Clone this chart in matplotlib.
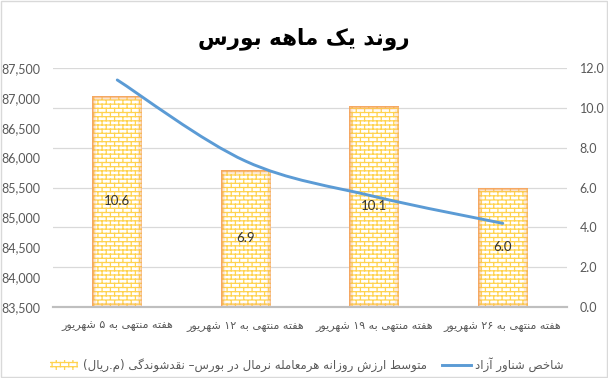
import re
import numpy as np
import matplotlib
matplotlib.use('Agg')
import matplotlib.pyplot as plt
import matplotlib.hatch as mhatch
from matplotlib.path import Path
from matplotlib.patches import PathPatch, Rectangle
from matplotlib.lines import Line2D
from matplotlib.ticker import FuncFormatter

# data
title = 'روند یک ماهه بورس'
weeks = ['هفته منتهی به ۵ شهریور', 'هفته منتهی به ۱۲ شهریور',
         'هفته منتهی به ۱۹ شهریور', 'هفته منتهی به ۲۶ شهریور']
liquidity = [10.6, 6.9, 10.1, 6.0]          # right axis, bars
float_index = [87300, 85940, 85350, 84900]  # left axis, line
bar_label = 'متوسط ارزش روزانه هرمعامله نرمال در بورس– نقدشوندگی (م.ریال)'
line_label = 'شاخص شناور آزاد'

# --- tiny persian shaper (matplotlib has no complex text layout) ---
FORMS = {
    'ا': '\uFE8D\uFE8E', 'آ': '\uFE81\uFE82', 'د': '\uFEA9\uFEAA',
    'ر': '\uFEAD\uFEAE', 'ز': '\uFEAF\uFEB0', 'و': '\uFEED\uFEEE',
    'ب': '\uFE8F\uFE90\uFE91\uFE92', 'ت': '\uFE95\uFE96\uFE97\uFE98',
    'خ': '\uFEA5\uFEA6\uFEA7\uFEA8', 'س': '\uFEB1\uFEB2\uFEB3\uFEB4',
    'ش': '\uFEB5\uFEB6\uFEB7\uFEB8', 'ص': '\uFEB9\uFEBA\uFEBB\uFEBC',
    'ط': '\uFEC1\uFEC2\uFEC3\uFEC4', 'ع': '\uFEC9\uFECA\uFECB\uFECC',
    'ف': '\uFED1\uFED2\uFED3\uFED4', 'ق': '\uFED5\uFED6\uFED7\uFED8',
    'ل': '\uFEDD\uFEDE\uFEDF\uFEE0', 'م': '\uFEE1\uFEE2\uFEE3\uFEE4',
    'ن': '\uFEE5\uFEE6\uFEE7\uFEE8', 'ه': '\uFEE9\uFEEA\uFEEB\uFEEC',
    'ی': '\uFBFC\uFBFD\uFBFE\uFBFF', 'ک': '\uFB8E\uFB8F\uFB90\uFB91',
    'گ': '\uFB92\uFB93\uFB94\uFB95',
}


def fa(s):
    out = []
    for i, ch in enumerate(s):
        f = FORMS.get(ch)
        if f is None:
            out.append(ch)
            continue
        prev = s[i - 1] if i > 0 else ''
        nxt = s[i + 1] if i + 1 < len(s) else ''
        jp = prev in FORMS and len(FORMS[prev]) == 4
        jn = len(f) == 4 and nxt in FORMS
        if jp and jn:
            out.append(f[3])
        elif jp:
            out.append(f[1])
        elif jn:
            out.append(f[2])
        else:
            out.append(f[0])
    vis = ''.join(out)[::-1].translate(str.maketrans('()', ')('))
    return re.sub('[\u06F0-\u06F9]+', lambda m: m.group(0)[::-1], vis)


# --- brick hatch, hooked onto the '-' hatch character ---
class BrickHatch(mhatch.HatchPatternBase):
    rows, cols = 24, 12

    def __init__(self, hatch, density):
        on = '-' in hatch
        self.num_vertices = ((self.rows + 1) * 2 + self.rows * self.cols * 2) if on else 0

    def set_vertices_and_codes(self, vertices, codes):
        v = []
        for i in range(self.rows + 1):
            y = i / self.rows
            v += [(0.0, y), (1.0, y)]
        for i in range(self.rows):
            off = 0.5 * (i % 2)
            for j in range(self.cols):
                x = (j + off + 0.25) / self.cols
                v += [(x, i / self.rows), (x, (i + 1) / self.rows)]
        vertices[:] = v
        codes[0::2] = Path.MOVETO
        codes[1::2] = Path.LINETO


mhatch._hatch_types = [BrickHatch if t is mhatch.HorizontalHatch else t
                       for t in mhatch._hatch_types]

plt.rcParams['font.family'] = ['Lato', 'DejaVu Sans']
plt.rcParams['hatch.linewidth'] = 0.9

fig = plt.figure(figsize=(6.08, 3.78), dpi=100)
ax = fig.add_axes([53 / 608, 1 - 307 / 378, 514 / 608, 239 / 378])
ax2 = ax.twinx()

x = np.arange(len(weeks))
bars = ax.bar(x, liquidity, width=0.39, color='white', edgecolor='#FFD34F',
              hatch='-', linewidth=0, zorder=2)
# soft orange inner glow along the bar edges
for lw, al in ((6, 0.22), (2.5, 0.45), (1.0, 0.9)):
    glow = ax.bar(x, liquidity, width=0.39, fill=False, edgecolor='#F5A55F',
                  linewidth=lw, alpha=al, zorder=3)
    for g, b in zip(glow, bars):
        g.set_clip_path(b)
for xi, v in zip(x, liquidity):
    ax.text(xi, v / 2, f'{v:.1f}', ha='center', va='center', fontsize=9.5,
            color='#333333', zorder=4)

ax.set_ylim(0, 12)
ax.set_yticks(np.arange(0, 13, 2))
ax.yaxis.tick_right()
ax.yaxis.set_major_formatter(FuncFormatter(lambda v, p: f'{v:.1f}'))
ax.yaxis.grid(True, color='#D9D9D9', linewidth=0.9)
ax.set_axisbelow(True)
ax.set_xlim(-0.5, len(weeks) - 0.5)
ax.set_xticks(x)
ax.set_xticklabels([fa(w) for w in weeks], fontsize=8, color='#595959',
                   family='DejaVu Sans')
ax.tick_params(axis='x', length=0, pad=10)
ax.tick_params(axis='y', length=0, pad=9, labelsize=9, labelcolor='#595959')

# smooth line through the index points (catmull-rom as cubic beziers)
pts = np.column_stack([x.astype(float), np.array(float_index, dtype=float)])
ext = np.vstack([pts[0], pts, pts[-1]])
verts, codes = [pts[0]], [Path.MOVETO]
for i in range(len(pts) - 1):
    p0, p1, p2, p3 = ext[i], ext[i + 1], ext[i + 2], ext[i + 3]
    verts += [p1 + (p2 - p0) / 6, p2 - (p3 - p1) / 6, p2]
    codes += [Path.CURVE4] * 3
ax2.add_patch(PathPatch(Path(verts, codes), fill=False, edgecolor='#5B9BD5',
                        linewidth=2.1, capstyle='round', zorder=5))
ax2.set_ylim(83500, 87500)
ax2.set_yticks(np.arange(83500, 87501, 500))
ax2.yaxis.tick_left()
ax2.yaxis.set_major_formatter(FuncFormatter(lambda v, p: f'{v:,.0f}'))
ax2.tick_params(axis='y', length=0, pad=9, labelsize=9, labelcolor='#595959')

for a in (ax, ax2):
    for s in ('top', 'left', 'right'):
        a.spines[s].set_visible(False)
    a.spines['bottom'].set_color('#BFBFBF')
    a.spines['bottom'].set_linewidth(1.5)

fig.text(0.5, 1 - 39 / 378, fa(title), ha='center', va='center',
         fontsize=15.5, fontweight='bold', color='black', family='DejaVu Sans')

line_handle = Line2D([], [], color='#5B9BD5', linewidth=2.1)
fig.legend([bars, line_handle], [fa(bar_label), fa(line_label)],
           loc='center', bbox_to_anchor=(0.505, 1 - 365 / 378), ncol=2,
           frameon=False, prop={'family': 'DejaVu Sans', 'size': 8.5},
           handlelength=2.4, handleheight=0.9,
           columnspacing=1.3, handletextpad=0.4, labelcolor='#595959')

fig.patches.append(Rectangle((0.001, 0.002), 0.997, 0.995, transform=fig.transFigure,
                             fill=False, edgecolor='#D9D9D9', linewidth=1))

fig.savefig('out.png', dpi=100)
